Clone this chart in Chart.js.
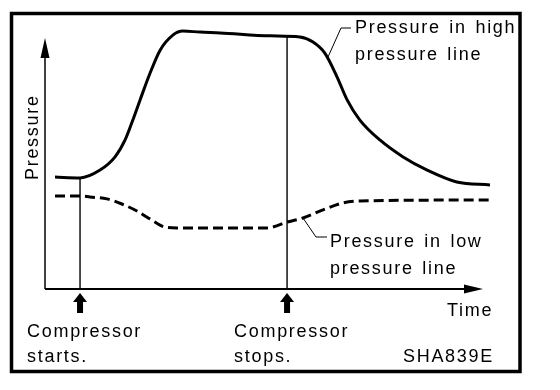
<!DOCTYPE html>
<html>
<head>
<meta charset="utf-8">
<script src="https://cdn.jsdelivr.net/npm/chart.js@4"></script>
<style>
  body { margin: 0; background: #fff; }
  #wrap { width: 560px; height: 390px; }
</style>
</head>
<body>
<div id="wrap"><canvas id="myChart"></canvas></div>
<script>
// time / pressure (arbitrary units, 0-100)
const timeHigh = [2.2, 7.7, 12.1, 15.4, 17.6, 19.3, 20.9, 23.1, 25.3, 28.1, 30.3, 34.1, 38.5, 49.5, 56.0, 58.9, 61.5, 64.2, 66.4, 69.2, 73.6, 78.7, 84.0, 90.5, 97.8];
const highPressure = [41.6, 41.3, 44.2, 49.1, 55.4, 62.8, 70.3, 80.3, 88.8, 94.4, 95.9, 95.5, 95.2, 94.1, 93.7, 91.8, 87.7, 78.8, 70.3, 62.8, 55.4, 49.1, 44.2, 39.8, 38.7];

const timeLow = [2.2, 7.7, 9.9, 13.6, 16.9, 20.2, 23.1, 26.4, 29.0, 48.8, 53.2, 56.7, 61.1, 65.5, 69.2, 97.8];
const lowPressure = [34.6, 34.6, 34.2, 33.5, 31.6, 29.0, 26.0, 23.0, 22.7, 22.7, 24.9, 26.4, 29.4, 32.0, 32.7, 33.1];

const eventTimes = [7.7, 53.2];
const eventTops = [41.3, 93.8];
const eventLabels = [['Compressor', 'starts.'], ['Compressor', 'stops.']];

const highLabel = ['Pressure in high', 'pressure line'];
const lowLabel = ['Pressure in low', 'pressure line'];
const yTitle = 'Pressure';
const xTitle = 'Time';
const figCode = 'SHA839E';

const FONT = '18px "Liberation Sans", Arial, sans-serif';

function pts(xs, ys) {
    return xs.map((t, i) => ({x: t, y: ys[i]}));
}

const markerSets = eventTimes.map(function (t, i) {
    return {
        data: [{x: t, y: 0}, {x: t, y: eventTops[i]}],
        borderColor: '#000',
        borderWidth: 1.4,
        pointRadius: 0,
        tension: 0
    };
});

function setText(ctx) {
    ctx.font = FONT;
    ctx.fillStyle = '#000';
    ctx.textBaseline = 'alphabetic';
    ctx.textAlign = 'left';
    ctx.letterSpacing = '1.7px';
    ctx.wordSpacing = '2px';
}

const drawing = {
    id: 'drawing',
    afterDraw(chart) {
        const ctx = chart.ctx;
        const a = chart.chartArea;
        const xs = chart.scales.x;
        ctx.save();
        ctx.strokeStyle = '#000';
        ctx.fillStyle = '#000';

        // frame
        ctx.lineWidth = 3.5;
        ctx.strokeRect(11.5, 13.5, 508.5, 358);

        // y axis
        ctx.lineWidth = 1.5;
        ctx.beginPath();
        ctx.moveTo(a.left, a.bottom);
        ctx.lineTo(a.left, a.top + 36);
        ctx.stroke();
        ctx.beginPath();
        ctx.moveTo(a.left, a.top + 18);
        ctx.lineTo(a.left - 4.5, a.top + 38);
        ctx.lineTo(a.left + 4.5, a.top + 38);
        ctx.closePath();
        ctx.fill();

        // x axis
        ctx.lineWidth = 2;
        ctx.beginPath();
        ctx.moveTo(a.left, a.bottom);
        ctx.lineTo(a.right - 34, a.bottom);
        ctx.stroke();
        ctx.beginPath();
        ctx.moveTo(a.right - 17, a.bottom);
        ctx.lineTo(a.right - 36, a.bottom - 4.5);
        ctx.lineTo(a.right - 36, a.bottom + 4.5);
        ctx.closePath();
        ctx.fill();

        // event arrows + labels
        setText(ctx);
        eventTimes.forEach(function (t, i) {
            const px = xs.getPixelForValue(t);
            ctx.beginPath();
            ctx.moveTo(px, a.bottom + 4);
            ctx.lineTo(px - 7, a.bottom + 13);
            ctx.lineTo(px + 7, a.bottom + 13);
            ctx.closePath();
            ctx.fill();
            ctx.fillRect(px - 3, a.bottom + 12, 6, 12);
            ctx.fillText(eventLabels[i][0], px - 53, a.bottom + 48);
            ctx.fillText(eventLabels[i][1], px - 53, a.bottom + 73);
        });

        // leaders
        ctx.lineWidth = 1;
        ctx.beginPath();
        ctx.moveTo(328, 57);
        ctx.lineTo(341, 28);
        ctx.lineTo(351, 28);
        ctx.moveTo(303, 218);
        ctx.lineTo(316, 237);
        ctx.lineTo(327, 237);
        ctx.stroke();

        ctx.fillText(highLabel[0], 355, 33);
        ctx.fillText(highLabel[1], 355, 60);
        ctx.fillText(lowLabel[0], 330, 247);
        ctx.fillText(lowLabel[1], 330, 274);
        ctx.fillText(xTitle, 447, 316);
        ctx.fillText(figCode, 403, 362);

        ctx.translate(38, 180);
        ctx.rotate(-Math.PI / 2);
        ctx.fillText(yTitle, 0, 0);

        ctx.restore();
    }
};

new Chart(document.getElementById('myChart'), {
    type: 'line',
    data: {
        datasets: [{
            label: 'high',
            data: pts(timeHigh, highPressure),
            borderColor: '#000',
            borderWidth: 3,
            pointRadius: 0,
            cubicInterpolationMode: 'monotone'
        }, {
            label: 'low',
            data: pts(timeLow, lowPressure),
            borderColor: '#000',
            borderWidth: 3,
            borderDash: [10, 5],
            pointRadius: 0,
            cubicInterpolationMode: 'monotone'
        }].concat(markerSets)
    },
    options: {
        responsive: true,
        maintainAspectRatio: false,
        animation: false,
        layout: { padding: { left: 45, top: 20, right: 60, bottom: 101 } },
        scales: {
            x: { type: 'linear', min: 0, max: 100, display: false },
            y: { min: 0, max: 100, display: false }
        },
        plugins: {
            legend: { display: false },
            tooltip: { enabled: false }
        }
    },
    plugins: [drawing]
});
</script>
</body>
</html>
